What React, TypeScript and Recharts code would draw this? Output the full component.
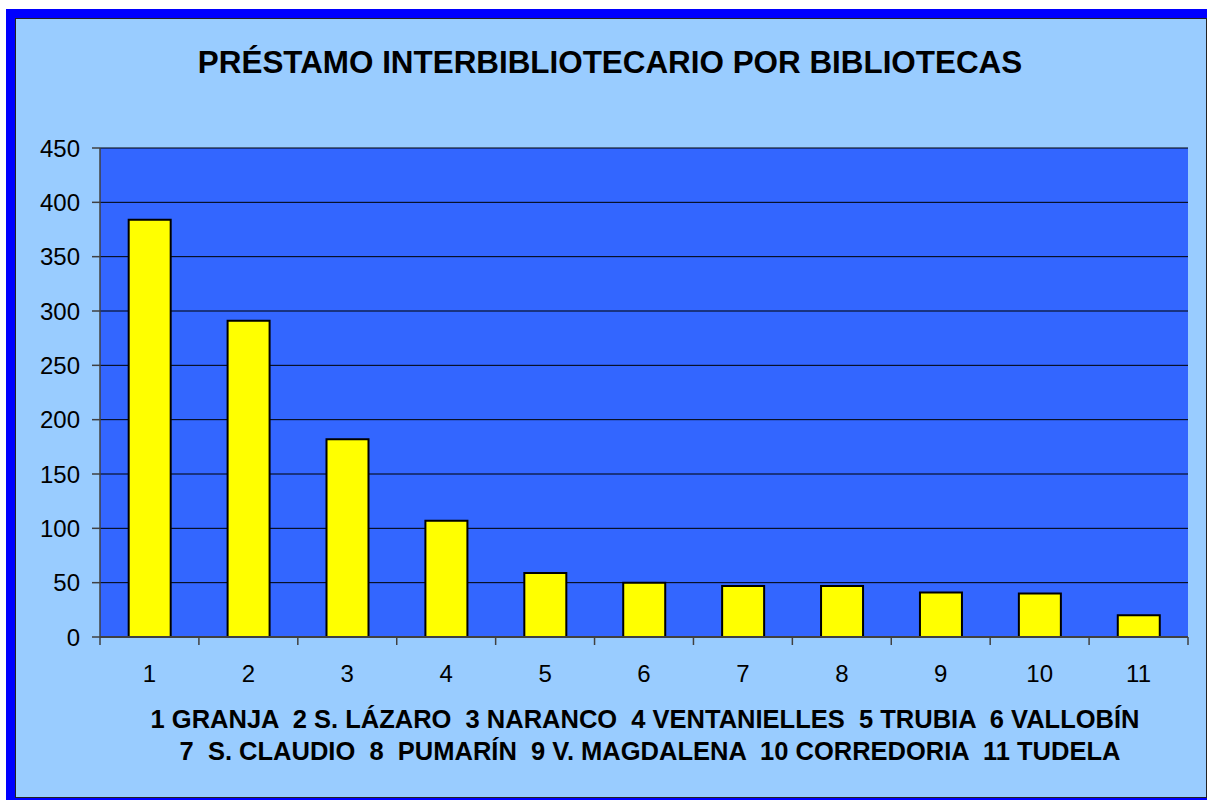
import React from 'react';
import { BarChart, Bar, XAxis, YAxis, CartesianGrid } from 'recharts';

const categories = ['1', '2', '3', '4', '5', '6', '7', '8', '9', '10', '11'];
const loans = [384, 291, 182, 107, 59, 50, 47, 47, 41, 40, 20];
const yTicks = [0, 50, 100, 150, 200, 250, 300, 350, 400, 450];
const titleText = 'PRÉSTAMO INTERBIBLIOTECARIO POR BIBLIOTECAS';
const footerLines = [
  '1 GRANJA  2 S. LÁZARO  3 NARANCO  4 VENTANIELLES  5 TRUBIA  6 VALLOBÍN',
  '7  S. CLAUDIO  8  PUMARÍN  9 V. MAGDALENA  10 CORREDORIA  11 TUDELA',
];

const data = categories.map((c, i) => ({ name: c, value: loans[i] }));

const W = 1207;
const H = 800;
const MARGIN = { top: 148, right: 19, left: 0, bottom: 103 };
const Y_AXIS_W = 100;
const X_AXIS_H = 60;
const PLOT_W = W - MARGIN.left - MARGIN.right - Y_AXIS_W;
const STEP = PLOT_W / categories.length;
const X_TICK_SIZE = 8;
const X_TICK_MARGIN = 20;
const FONT = '"Liberation Sans", Arial, sans-serif';

const XTick = (props: any) => {
  const { x, y, payload, index } = props;
  const axisY = y - X_TICK_SIZE - X_TICK_MARGIN;
  const half = STEP / 2;
  return (
    <g>
      <line x1={x - half} x2={x - half} y1={axisY} y2={axisY + X_TICK_SIZE} stroke="#404040" strokeWidth={1.5} />
      {index === categories.length - 1 && (
        <line x1={x + half} x2={x + half} y1={axisY} y2={axisY + X_TICK_SIZE} stroke="#404040" strokeWidth={1.5} />
      )}
      <text x={x} y={y} dy="0.71em" textAnchor="middle" fontSize={24} fontFamily={FONT} fill="#000">
        {payload.value}
      </text>
    </g>
  );
};

export default function App() {
  return (
    <div style={{ position: 'absolute', left: 0, top: 0, width: W, height: H, overflow: 'hidden', background: '#fff' }}>
      <div
        style={{
          position: 'absolute',
          left: 6,
          top: 9,
          width: 1210,
          height: 798,
          boxSizing: 'border-box',
          border: '9px solid #0000FF',
        }}
      >
        <div style={{ width: '100%', height: '100%', boxSizing: 'border-box', border: '1px solid #222', background: '#99CCFF' }} />
      </div>
      <div style={{ position: 'absolute', left: 0, top: 0 }}>
        <BarChart width={W} height={H} data={data} margin={MARGIN} barCategoryGap="29%">
          <CartesianGrid vertical={false} stroke="#000" strokeWidth={1} fill="#3366FF" fillOpacity={1} />
          <XAxis
            dataKey="name"
            height={X_AXIS_H}
            tickLine={false}
            tickSize={X_TICK_SIZE}
            tickMargin={X_TICK_MARGIN}
            axisLine={{ stroke: '#404040', strokeWidth: 2 }}
            tick={<XTick />}
            interval={0}
          />
          <XAxis xAxisId="top" orientation="top" dataKey="name" height={0} tick={false} tickLine={false} axisLine={{ stroke: '#808080', strokeWidth: 2.5 }} />
          <YAxis
            domain={[0, 450]}
            ticks={yTicks}
            width={Y_AXIS_W}
            tickSize={8}
            tickMargin={12}
            tickLine={{ stroke: '#404040', strokeWidth: 1.5 }}
            axisLine={{ stroke: '#404040', strokeWidth: 1.5 }}
            tick={{ fontSize: 24, fontFamily: FONT, fill: '#000' }}
            interval={0}
          />
          <YAxis yAxisId="right" orientation="right" domain={[0, 450]} width={0} tick={false} tickLine={false} axisLine={{ stroke: '#808080', strokeWidth: 2.5 }} />
          <Bar dataKey="value" fill="#FFFF00" stroke="#000" strokeWidth={2} isAnimationActive={false} />
        </BarChart>
      </div>
      <svg width={W} height={H} style={{ position: 'absolute', left: 0, top: 0, pointerEvents: 'none' }}>
        <text x={610} y={73} textAnchor="middle" fontSize={31.4} fontWeight="bold" fontFamily={FONT} fill="#000">
          {titleText}
        </text>
        <text x={645} y={728} textAnchor="middle" fontSize={25.5} fontWeight="bold" fontFamily={FONT} fill="#000" style={{ whiteSpace: 'pre' }}>
          {footerLines[0]}
        </text>
        <text x={650} y={760} textAnchor="middle" fontSize={25.5} fontWeight="bold" fontFamily={FONT} fill="#000" style={{ whiteSpace: 'pre' }}>
          {footerLines[1]}
        </text>
      </svg>
    </div>
  );
}
